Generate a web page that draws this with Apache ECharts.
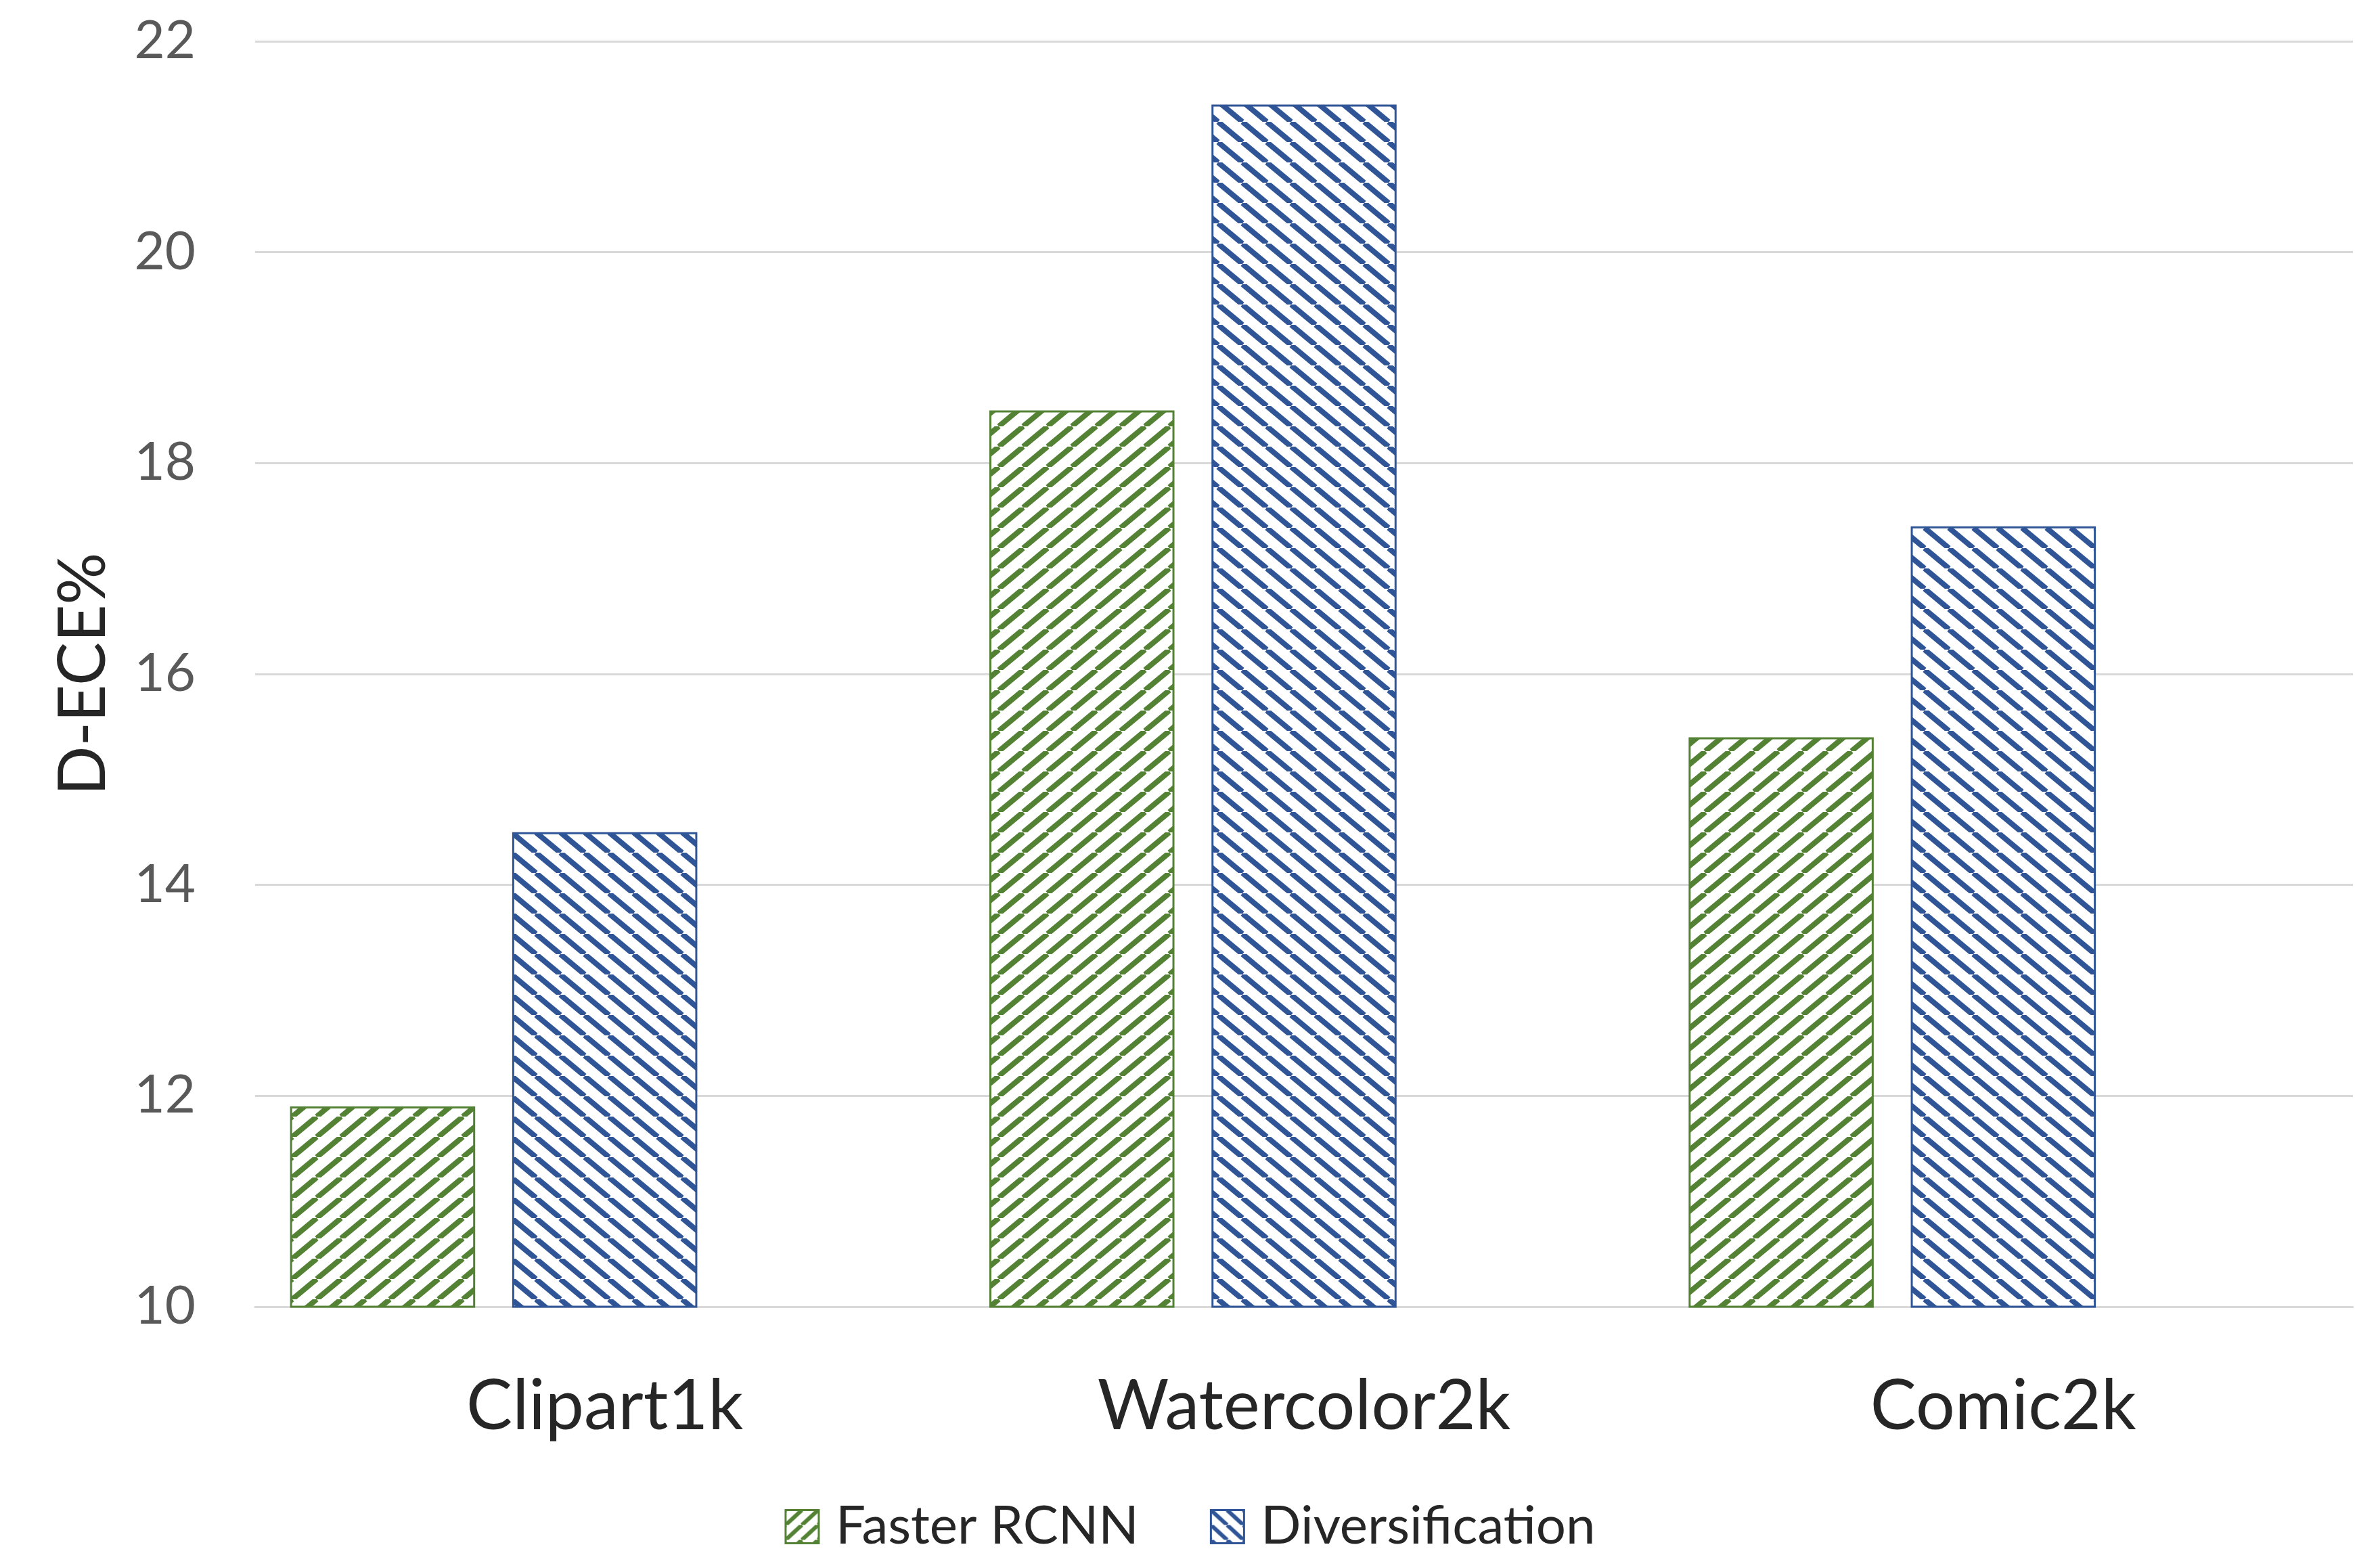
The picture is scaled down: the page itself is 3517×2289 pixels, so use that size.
<!DOCTYPE html>
<html>
<head>
<meta charset="utf-8">
<script src="https://cdn.jsdelivr.net/npm/echarts@6/dist/echarts.min.js"></script>
<style>
  html, body { margin: 0; padding: 0; background: #ffffff; }
  #chart { width: 3517px; height: 2289px; }
</style>
</head>
<body>
<div id="chart"></div>
<script>
// Detection calibration error per target domain
const categories = ['Clipart1k', 'Watercolor2k', 'Comic2k'];
const fasterRcnn = [11.9, 18.5, 15.4];
const diversification = [14.5, 21.4, 17.4];
const seriesNames = ['Faster RCNN', 'Diversification'];
const yAxisTitle = 'D-ECE%';
const yMin = 10;
const yMax = 22;
const yStep = 2;

const GREEN = '#548235';
const BLUE = '#2F5597';

// Diagonal hatch tile (w x h): 'up' draws "/" strokes, 'down' draws "\" strokes
function hatch(color, w, h, width, dir) {
  const c = document.createElement('canvas');
  c.width = w; c.height = h;
  const g = c.getContext('2d');
  g.fillStyle = '#ffffff';
  g.fillRect(0, 0, w, h);
  g.strokeStyle = color;
  g.lineWidth = width;
  for (const k of [-1, 0, 1]) {
    g.beginPath();
    if (dir === 'up') { g.moveTo(k * w, h); g.lineTo((k + 1) * w, 0); }
    else { g.moveTo(k * w, 0); g.lineTo((k + 1) * w, h); }
    g.stroke();
  }
  return c;
}

const greenFill = { image: hatch(GREEN, 36, 30, 8, 'up'), repeat: 'repeat' };
const blueFill = { image: hatch(BLUE, 36, 30, 8, 'down'), repeat: 'repeat' };
const greenIcon = { image: hatch(GREEN, 24, 22, 6, 'up'), repeat: 'repeat' };
const blueIcon = { image: hatch(BLUE, 24, 22, 6, 'down'), repeat: 'repeat' };

const chart = echarts.init(document.getElementById('chart'), null, { renderer: 'canvas' });

chart.setOption({
  backgroundColor: '#ffffff',
  animation: false,
  textStyle: { fontFamily: 'Lato' },
  grid: { left: 377, right: 40, top: 61, bottom: 358, containLabel: false },
  legend: {
    left: 'center',
    top: 2212,
    itemWidth: 49,
    itemHeight: 49,
    itemGap: 105,
    icon: 'rect',
    textStyle: { fontSize: 78, color: '#262626', fontFamily: 'Lato', padding: [0, 0, 0, 20] },
    data: [
      { name: seriesNames[0], itemStyle: { color: greenIcon, borderColor: GREEN, borderWidth: 3 } },
      { name: seriesNames[1], itemStyle: { color: blueIcon, borderColor: BLUE, borderWidth: 3 } }
    ]
  },
  xAxis: {
    type: 'category',
    data: categories,
    axisLine: { show: true, lineStyle: { color: '#D9D9D9', width: 3 } },
    axisTick: { show: false },
    axisLabel: { fontSize: 102, color: '#262626', margin: 97, fontFamily: 'Lato' }
  },
  yAxis: {
    type: 'value',
    min: yMin,
    max: yMax,
    interval: yStep,
    name: yAxisTitle,
    nameLocation: 'middle',
    nameGap: 205,
    nameRotate: 90,
    nameTextStyle: { fontSize: 96, color: '#262626', fontFamily: 'Lato' },
    axisLine: { show: false },
    axisTick: { show: false },
    axisLabel: { fontSize: 78, color: '#595959', margin: 88, fontFamily: 'Lato' },
    splitLine: { show: true, lineStyle: { color: '#D9D9D9', width: 3 } }
  },
  series: [
    {
      name: seriesNames[0],
      type: 'bar',
      data: fasterRcnn,
      barGap: '20%',
      barCategoryGap: '10%',
      itemStyle: { color: greenFill, borderColor: GREEN, borderWidth: 3 }
    },
    {
      name: seriesNames[1],
      type: 'bar',
      data: diversification,
      barGap: '20%',
      barCategoryGap: '10%',
      itemStyle: { color: blueFill, borderColor: BLUE, borderWidth: 3 }
    },
    {
      // empty third slot keeps each group's spacing
      name: 'spare',
      type: 'bar',
      data: [null, null, null],
      barGap: '20%',
      barCategoryGap: '10%',
      silent: true
    }
  ]
});
</script>
</body>
</html>
